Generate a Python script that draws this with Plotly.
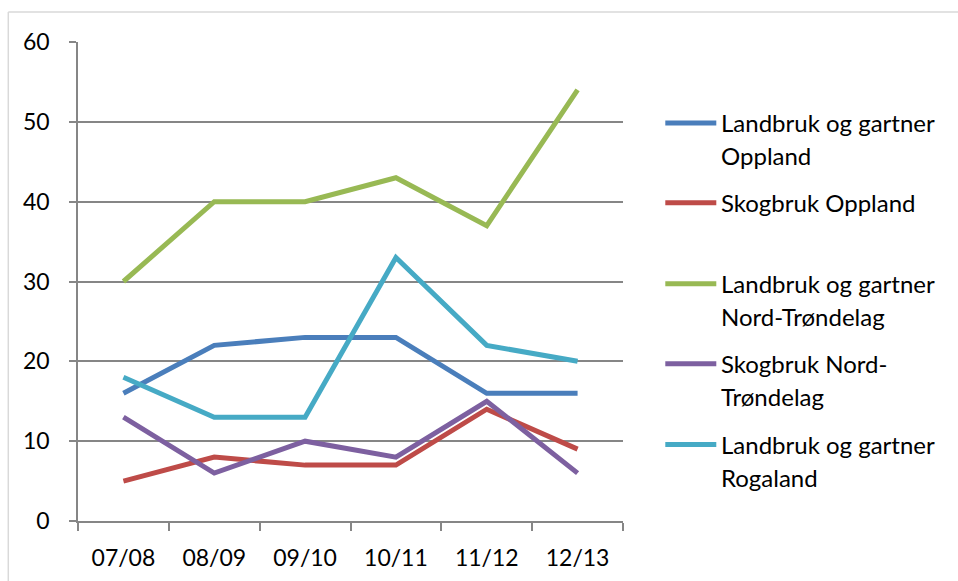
import plotly.graph_objects as go

seasons = ['07/08', '08/09', '09/10', '10/11', '11/12', '12/13']

series_names = [
    'Landbruk og gartner<br>Oppland',
    'Skogbruk Oppland',
    'Landbruk og gartner<br>Nord-Trøndelag',
    'Skogbruk Nord-<br>Trøndelag',
    'Landbruk og gartner<br>Rogaland',
]
landbruk_oppland = [16, 22, 23, 23, 16, 16]
skogbruk_oppland = [5, 8, 7, 7, 14, 9]
landbruk_nord_trondelag = [30, 40, 40, 43, 37, 54]
skogbruk_nord_trondelag = [13, 6, 10, 8, 15, 6]
landbruk_rogaland = [18, 13, 13, 33, 22, 20]

series_values = [landbruk_oppland, skogbruk_oppland, landbruk_nord_trondelag,
                 skogbruk_nord_trondelag, landbruk_rogaland]
colors = ['#4A7EBB', '#BE4B48', '#98B954', '#7D60A0', '#46AAC5']

# body margin is removed in the page (see post_script), so pixels = screen pixels
W, H = 958, 581
L, R, T, B = 77.7, 622.7, 42, 521.5  # plot area
FONT = 'Lato'


def px(x):
    return (x - L) / (R - L)


def py(y):
    return (B - y) / (B - T)


fig = go.Figure()
for name, vals, col in zip(series_names, series_values, colors):
    fig.add_trace(go.Scatter(x=seasons, y=vals, mode='lines', name=name,
                             line=dict(color=col, width=5), showlegend=False))

# hand-made legend, Excel style
legend_y = [123, 203, 284, 364, 445]
shapes = []
annotations = []
for name, col, ly in zip(series_names, colors, legend_y):
    shapes.append(dict(type='line', xref='paper', yref='paper',
                       x0=px(665), x1=px(716), y0=py(ly), y1=py(ly),
                       line=dict(color=col, width=5)))
    for i, part in enumerate(name.split('<br>')):
        annotations.append(dict(xref='paper', yref='paper', x=px(719), y=py(ly + i * 33),
                                xanchor='left', yanchor='middle', showarrow=False,
                                text=part, font=dict(family=FONT, size=24, color='black')))

# light chart border
shapes.append(dict(type='line', xref='paper', yref='paper', x0=px(8), x1=px(980),
                   y0=py(12), y1=py(12), line=dict(color='#D9D9D9', width=1.5)))
shapes.append(dict(type='line', xref='paper', yref='paper', x0=px(8), x1=px(8),
                   y0=py(12), y1=py(600), line=dict(color='#D9D9D9', width=1.5)))

fig.update_layout(
    width=W, height=H,
    margin=dict(l=L, r=W - R, t=T, b=H - B, pad=0),
    plot_bgcolor='white', paper_bgcolor='white',
    font=dict(family=FONT, size=24, color='black'),
    shapes=shapes, annotations=annotations,
    xaxis=dict(range=[-0.5, 5.5], showline=True, linecolor='#868686', linewidth=1.5,
               ticks='outside', ticklen=8, tickcolor='#868686', tickwidth=1.5,
               tickson='boundaries', showgrid=False, zeroline=False, automargin=False,
               tickfont=dict(size=23), ticklabelstandoff=16),
    yaxis=dict(range=[0, 60], dtick=10, showline=True, linecolor='#868686', linewidth=1.5,
               ticks='outside', ticklen=7, tickcolor='#868686', tickwidth=1.5,
               gridcolor='#868686', gridwidth=1.5, zeroline=False, automargin=False,
               tickfont=dict(size=23), ticklabelstandoff=15),
)

fig.write_html('out.html', config={'displayModeBar': False},
               post_script="document.body.style.margin='0';document.body.style.overflow='hidden';")
